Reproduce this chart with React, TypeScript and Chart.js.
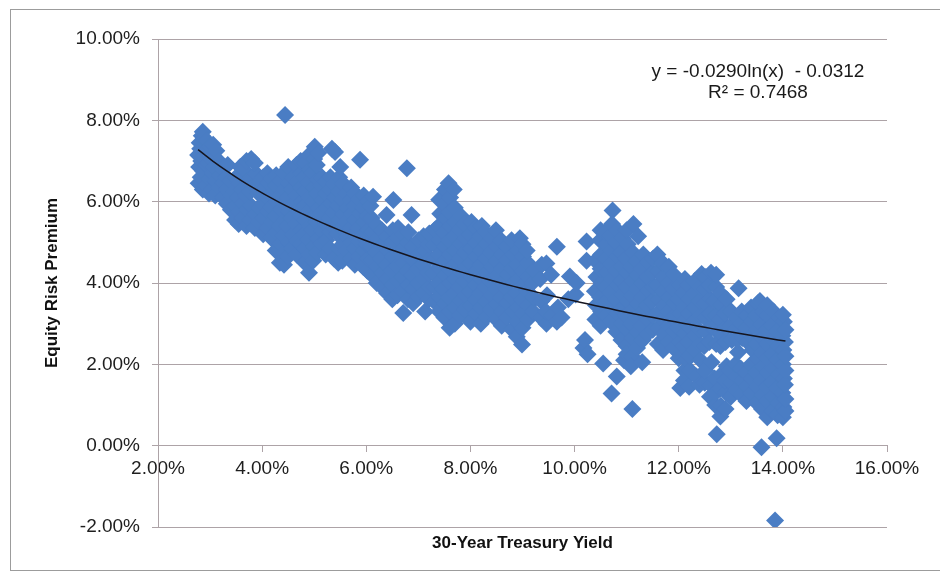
import React, { useEffect, useRef } from "react";
import { Chart, registerables } from "chart.js";

Chart.register(...registerables);

// Monthly observations: [30-year Treasury yield %, equity risk premium %]
const lowYieldObs: [number, number][] = [
  [2.78,6.45],[2.79,6.85],[2.77,7.15],[2.8,7.45],
  [2.82,6.6],[2.83,7.0],[2.81,7.3],[2.84,7.62],
  [2.86,6.3],[2.87,6.75],[2.85,7.1],[2.88,7.55],[2.86,7.72],
  [2.92,6.4],[2.93,6.9],[2.91,7.25],[2.94,7.5],
  [2.98,6.2],[2.99,6.55],[2.97,6.95],[3.0,7.35],
  [3.04,6.3],[3.05,6.7],[3.03,7.05],[3.06,7.4],
  [3.1,6.15],[3.11,6.5],[3.09,6.85],[3.12,7.25],
  [3.18,6.35],[3.19,6.65],[3.17,7.0],
  [3.25,6.1],[3.26,6.45],[3.24,6.8],
  [3.32,5.95],[3.33,6.3],[3.31,6.6],[3.34,6.9],
  [3.4,5.8],[3.41,6.15],[3.39,6.5],
  [3.48,5.55],[3.49,5.9],[3.47,6.25],[3.5,6.6],
  [3.55,5.45],[3.56,5.75],[3.54,6.1],[3.57,6.45],[3.58,6.85],
  [3.62,5.6],[3.63,5.95],[3.61,6.3],[3.64,6.8],
  [3.7,5.4],[3.71,5.8],[3.69,6.15],[3.72,6.5],[3.7,7.0],
  [3.78,5.55],[3.79,5.9],[3.77,6.25],[3.8,6.55],[3.79,7.05],
  [3.86,5.35],[3.87,5.7],[3.85,6.4],[3.88,6.7],[3.86,6.95],
  [3.94,5.5],[3.95,5.85],[3.93,6.2],[3.96,6.5],
  [4.02,5.2],[4.03,5.6],[4.01,5.95],[4.04,6.3],[4.02,6.6],
  [4.1,5.35],[4.11,5.75],[4.09,6.1],[4.12,6.45],[4.1,6.7],
  [4.18,5.1],[4.19,5.5],[4.17,5.85],[4.2,6.2],[4.18,6.55],
  [4.26,4.8],[4.27,5.25],[4.25,5.65],[4.28,6.0],[4.26,6.4],[4.27,6.65],
  [4.34,4.5],[4.35,4.95],[4.33,5.4],[4.36,5.8],[4.34,6.15],[4.35,6.5],
  [4.42,4.45],[4.43,4.75],[4.41,5.15],[4.44,5.55],[4.42,5.95],[4.43,6.3],[4.41,6.7],[4.44,8.13],
  [4.5,4.65],[4.51,5.0],[4.49,5.4],[4.52,5.75],[4.5,6.1],[4.51,6.45],[4.5,6.85],
  [4.58,4.85],[4.59,5.2],[4.57,5.6],[4.6,5.95],[4.58,6.3],[4.59,6.6],
  [4.66,4.7],[4.67,5.05],[4.65,5.45],[4.68,5.8],[4.66,6.15],[4.67,6.5],[4.66,6.9],
  [4.74,4.95],[4.75,5.3],[4.73,5.65],[4.76,6.0],[4.74,6.35],[4.75,6.7],[4.74,7.0],
  [4.82,4.5],[4.83,4.85],[4.81,5.2],[4.84,5.55],[4.82,5.9],[4.83,6.25],[4.81,6.6],[4.84,6.95],
  [4.9,4.25],[4.91,4.7],[4.89,5.05],[4.92,5.4],[4.9,5.75],[4.91,6.1],[4.89,6.45],[4.92,6.8],[4.9,7.15],
  [4.98,4.55],[4.99,4.9],[4.97,5.3],[5.0,5.65],[4.98,6.0],[4.99,6.35],[4.97,6.7],[5.0,7.05],[5.01,7.35],
  [5.06,4.75],[5.07,5.1],[5.05,5.5],[5.08,5.85],[5.06,6.2],[5.07,6.55],[5.05,6.9],[5.08,7.2],
  [5.14,4.95],[5.15,5.3],[5.13,5.7],[5.16,6.05],[5.14,6.4],[5.15,6.6],
  [5.22,4.7],[5.23,5.05],[5.21,5.45],[5.24,5.85],[5.22,6.2],[5.23,6.5],
  [5.3,4.85],[5.31,5.25],[5.29,5.6],[5.32,5.95],[5.3,6.3],[5.31,6.6],[5.34,7.3],
  [5.38,4.6],[5.39,5.35],[5.37,5.75],[5.4,6.1],[5.38,6.45],[5.4,7.22],
  [5.46,4.5],[5.47,4.85],[5.45,5.2],[5.48,5.55],[5.46,5.9],[5.47,6.25],[5.48,6.6],[5.5,6.85],
  [5.54,4.55],[5.55,4.95],[5.53,5.35],[5.56,5.7],[5.54,6.05],[5.55,6.45],
  [5.62,4.8],[5.63,5.15],[5.61,5.5],[5.64,5.85],[5.62,6.2],
  [5.7,4.6],[5.71,5.0],[5.69,5.35],[5.72,5.7],[5.7,6.05],[5.71,6.35],
  [5.78,4.45],[5.79,4.85],[5.77,5.2],[5.8,5.55],[5.78,5.9],[5.79,6.2],
  [5.86,4.65],[5.87,5.0],[5.85,5.35],[5.88,5.7],[5.86,6.05],[5.88,7.03],
  [5.94,4.4],[5.95,4.8],[5.93,5.15],[5.96,5.5],[5.94,5.85],[5.95,6.15],
  [6.02,4.3],[6.03,4.6],[6.01,4.95],[6.04,5.3],[6.02,5.65],[6.03,6.0],
];

const midYieldObs: [number, number][] = [
  [6.1,4.2],[6.11,4.55],[6.09,4.9],[6.12,5.25],[6.1,5.6],[6.08,5.9],[6.13,6.12],
  [6.2,4.0],[6.21,4.4],[6.19,4.75],[6.22,5.1],[6.2,5.42],
  [6.3,3.9],[6.31,4.25],[6.29,4.6],[6.32,4.95],[6.3,5.3],
  [6.4,3.75],[6.41,4.1],[6.39,4.45],[6.42,4.8],[6.4,5.15],[6.39,5.67],
  [6.5,3.6],[6.51,3.95],[6.49,4.3],[6.52,4.65],[6.5,5.0],[6.51,5.3],[6.52,6.04],
  [6.6,3.7],[6.61,4.05],[6.59,4.4],[6.62,4.75],[6.6,5.1],[6.61,5.35],
  [6.71,3.26],[6.7,3.8],[6.69,4.15],[6.72,4.5],[6.7,4.85],[6.71,5.2],[6.78,6.82],
  [6.8,3.6],[6.81,3.95],[6.79,4.3],[6.82,4.65],[6.8,5.0],[6.81,5.25],
  [6.9,3.5],[6.91,3.85],[6.89,4.2],[6.92,4.55],[6.9,4.9],[6.87,5.67],
  [7.0,3.65],[7.01,4.0],[6.99,4.35],[7.02,4.7],[7.0,5.05],
  [7.13,3.3],[7.1,3.75],[7.11,4.1],[7.09,4.45],[7.12,4.8],[7.1,5.15],
  [7.2,3.6],[7.21,3.9],[7.19,4.25],[7.22,4.6],[7.2,4.95],[7.21,5.22],
  [7.3,3.55],[7.31,3.9],[7.29,4.25],[7.32,4.6],[7.3,4.95],[7.31,5.3],
  [7.4,3.3],[7.41,3.65],[7.39,4.0],[7.42,4.35],[7.4,4.7],[7.41,5.05],[7.39,5.4],[7.42,5.7],[7.4,6.05],
  [7.5,3.15],[7.51,3.5],[7.49,3.85],[7.52,4.2],[7.5,4.55],[7.51,4.9],[7.49,5.25],[7.52,5.6],[7.5,5.95],[7.51,6.3],
  [7.6,2.9],[7.61,3.3],[7.59,3.65],[7.62,4.0],[7.6,4.35],[7.61,4.7],[7.59,5.05],[7.62,5.4],[7.6,5.75],[7.61,6.1],[7.58,6.45],
  [7.7,3.0],[7.71,3.4],[7.69,3.75],[7.72,4.1],[7.7,4.45],[7.71,4.8],[7.69,5.15],[7.72,5.5],[7.7,5.85],[7.68,6.3],
  [7.8,3.2],[7.81,3.55],[7.79,3.9],[7.82,4.25],[7.8,4.6],[7.81,4.95],[7.79,5.3],[7.82,5.65],
  [7.9,3.35],[7.91,3.7],[7.89,4.05],[7.92,4.4],[7.9,4.75],[7.91,5.1],[7.89,5.45],
  [8.0,3.05],[8.01,3.45],[7.99,3.8],[8.02,4.15],[8.0,4.5],[8.01,4.85],[7.99,5.2],[8.02,5.5],
  [8.1,3.25],[8.11,3.6],[8.09,3.95],[8.12,4.3],[8.1,4.65],[8.11,5.0],[8.09,5.35],
  [8.2,3.0],[8.21,3.4],[8.19,3.75],[8.22,4.1],[8.2,4.45],[8.21,4.8],[8.19,5.15],[8.22,5.4],
  [8.31,3.17],[8.3,3.55],[8.29,3.9],[8.32,4.25],[8.3,4.6],[8.31,4.95],[8.29,5.25],
  [8.4,3.35],[8.41,3.7],[8.39,4.05],[8.42,4.4],[8.4,4.75],[8.41,5.1],
  [8.5,3.1],[8.51,3.5],[8.49,3.85],[8.52,4.2],[8.5,4.55],[8.51,4.9],[8.49,5.3],
  [8.6,2.95],[8.61,3.3],[8.59,3.65],[8.62,4.0],[8.6,4.35],[8.61,4.7],[8.59,5.05],
  [8.7,3.15],[8.71,3.5],[8.69,3.85],[8.72,4.2],[8.7,4.55],[8.71,4.9],
  [8.8,2.85],[8.81,3.3],[8.79,3.65],[8.82,4.0],[8.8,4.35],[8.81,4.7],[8.79,5.05],
  [8.89,2.68],[8.9,3.05],[8.91,3.4],[8.89,3.75],[8.92,4.1],[8.9,4.45],[8.91,4.8],[8.95,5.1],
  [8.99,2.49],[9.0,2.9],[9.01,3.25],[8.99,3.6],[9.02,3.95],[9.0,4.3],[9.01,4.65],[9.0,4.95],
  [9.1,3.1],[9.11,3.45],[9.09,3.8],[9.12,4.15],[9.1,4.5],[9.08,4.8],
  [9.2,3.3],[9.21,3.65],[9.19,4.0],[9.22,4.3],
  [9.35,3.15],[9.36,3.55],[9.34,4.1],[9.37,4.45],
  [9.46,3.0],[9.45,3.3],[9.47,3.7],[9.46,4.48],
  [9.56,3.2],[9.55,4.2],
  [9.66,3.05],[9.68,3.4],[9.66,4.89],
  [9.75,3.15],
  [9.88,3.6],[9.91,4.16],
  [10.02,3.72],[10.04,4.0],
  [10.17,2.4],[10.2,2.6],[10.23,4.55],[10.23,5.02],
  [10.25,2.25],
];

const highYieldObs: [number, number][] = [
  [10.4,3.1],[10.41,3.45],[10.39,3.8],[10.42,4.15],[10.4,4.55],
  [10.5,2.95],[10.51,3.3],[10.49,3.65],[10.52,4.0],[10.5,4.35],[10.51,4.7],[10.49,5.05],[10.5,5.3],[10.55,2.02],
  [10.6,3.2],[10.61,3.55],[10.59,3.9],[10.62,4.25],[10.6,4.6],[10.61,4.95],[10.59,5.25],
  [10.7,3.05],[10.71,3.4],[10.69,3.75],[10.72,4.1],[10.7,4.45],[10.71,4.8],[10.69,5.15],[10.72,5.45],[10.73,5.78],[10.71,1.28],
  [10.8,2.8],[10.81,3.25],[10.79,3.6],[10.82,3.95],[10.8,4.3],[10.81,4.65],[10.79,5.0],[10.82,5.3],[10.81,1.7],
  [10.9,2.6],[10.91,3.0],[10.89,3.35],[10.92,3.7],[10.9,4.05],[10.91,4.4],[10.89,4.75],[10.92,5.1],[10.95,2.1],
  [11.0,2.45],[11.01,2.85],[10.99,3.2],[11.02,3.55],[11.0,3.9],[11.01,4.25],[10.99,4.6],[11.02,4.95],[11.0,5.3],[11.0,2.25],
  [11.1,2.2],[11.11,2.65],[11.09,3.0],[11.12,3.35],[11.1,3.7],[11.11,4.05],[11.09,4.4],[11.12,4.75],[11.13,5.45],[11.11,0.9],[11.08,1.95],
  [11.2,2.4],[11.21,2.8],[11.19,3.15],[11.22,3.5],[11.2,3.85],[11.21,4.2],[11.19,4.55],[11.22,5.15],
  [11.3,2.05],[11.31,2.6],[11.29,2.95],[11.32,3.3],[11.3,3.65],[11.31,4.0],[11.29,4.35],[11.32,4.7],
  [11.4,2.75],[11.41,3.1],[11.39,3.45],[11.42,3.8],[11.4,4.15],[11.41,4.5],
  [11.5,2.85],[11.51,3.2],[11.49,3.55],[11.52,3.9],[11.5,4.25],[11.51,4.6],
  [11.6,2.5],[11.61,2.9],[11.59,3.25],[11.62,3.6],[11.6,3.95],[11.61,4.3],[11.59,4.7],
  [11.7,2.35],[11.71,2.75],[11.69,3.1],[11.72,3.45],[11.7,3.8],[11.71,4.15],[11.69,4.5],
  [11.8,2.55],[11.81,2.95],[11.79,3.3],[11.82,3.65],[11.8,4.0],[11.81,4.4],
  [11.9,2.4],[11.91,2.8],[11.89,3.15],[11.92,3.5],[11.9,3.85],[11.91,4.2],
  [12.03,1.42],[12.0,2.15],[12.01,2.55],[11.99,2.9],[12.02,3.25],[12.0,3.6],[12.01,3.95],
  [12.1,1.6],[12.11,1.85],[12.15,2.1],[12.09,2.45],[12.12,2.75],[12.1,3.05],[12.11,3.4],[12.09,3.75],[12.12,4.1],
  [12.2,1.45],[12.22,1.85],[12.21,2.2],[12.19,2.55],[12.22,2.9],[12.2,3.25],[12.21,3.6],[12.19,3.95],
  [12.34,1.7],[12.3,2.35],[12.31,2.7],[12.29,3.05],[12.32,3.4],[12.3,3.75],[12.31,4.05],
  [12.4,1.5],[12.42,2.1],[12.41,2.5],[12.39,2.85],[12.42,3.2],[12.4,3.55],[12.41,3.9],[12.44,4.22],
  [12.5,1.55],[12.51,1.85],[12.49,2.45],[12.52,2.8],[12.5,3.15],[12.51,3.5],[12.49,3.85],[12.52,4.15],
  [12.6,1.2],[12.61,1.5],[12.63,2.05],[12.59,2.55],[12.62,2.9],[12.6,3.25],[12.61,3.6],[12.59,3.95],[12.62,4.25],
  [12.73,0.28],[12.7,1.0],[12.71,1.3],[12.69,1.65],[12.72,2.5],[12.7,2.85],[12.71,3.2],[12.69,3.55],[12.72,3.9],[12.72,4.2],
  [12.8,0.72],[12.81,0.98],[12.79,1.4],[12.82,1.75],[12.8,2.45],[12.81,2.75],[12.79,3.1],[12.82,3.45],[12.8,3.75],
  [12.9,0.9],[12.91,1.3],[12.89,1.6],[12.92,1.95],[12.9,2.55],[12.91,2.9],[12.89,3.25],[12.92,3.6],
  [13.0,1.2],[13.01,1.55],[12.99,1.85],[13.02,2.6],[13.0,2.95],[13.01,3.3],
  [13.1,1.35],[13.11,1.7],[13.09,2.0],[13.14,2.3],[13.12,2.6],[13.1,2.85],[13.11,3.15],[13.15,3.87],
  [13.2,1.25],[13.21,1.6],[13.19,1.9],[13.22,2.65],[13.2,3.0],[13.21,3.3],
  [13.3,1.1],[13.31,1.45],[13.29,1.8],[13.32,2.55],[13.3,2.9],[13.31,3.2],
  [13.4,1.3],[13.41,1.65],[13.39,2.0],[13.42,2.35],[13.4,2.7],[13.41,3.05],[13.39,3.4],
  [13.5,1.05],[13.51,1.45],[13.49,1.8],[13.52,2.15],[13.5,2.5],[13.51,2.85],[13.49,3.2],[13.52,3.5],
  [13.59,-0.04],[13.6,0.9],[13.61,1.25],[13.59,1.6],[13.62,1.95],[13.6,2.3],[13.61,2.65],[13.59,3.0],[13.62,3.3],[13.56,3.56],
  [13.7,0.7],[13.71,1.1],[13.69,1.45],[13.72,1.8],[13.7,2.15],[13.71,2.5],[13.69,2.85],[13.72,3.2],[13.7,3.45],
  [13.88,0.18],[13.8,0.85],[13.81,1.2],[13.79,1.55],[13.82,1.9],[13.8,2.25],[13.81,2.6],[13.79,2.95],[13.82,3.3],[13.85,-1.84],
  [13.9,0.75],[13.91,1.05],[13.89,1.4],[13.92,1.75],[13.9,2.1],[13.91,2.45],[13.89,2.8],[13.95,3.15],
  [14.0,0.7],[14.01,0.95],[13.99,1.3],[14.02,1.65],[14.0,2.0],[14.01,2.35],[13.99,2.7],[14.02,3.05],[14.0,3.22],
  [14.05,0.85],[14.05,1.15],[14.04,1.5],[14.05,1.85],[14.05,2.2],[14.04,2.55],[14.05,2.85],
];

// Logarithmic trendline as reported on the chart (x and y as fractions)
const TREND_SLOPE = -0.029;
const TREND_INTERCEPT = -0.0312;
const equationText = "y = -0.0290ln(x)  - 0.0312";
const rSquaredText = "R\u00B2 = 0.7468";

const xAxisTitle = "30-Year Treasury Yield";
const yAxisTitle = "Equity Risk Premium";

const FONT = "'Liberation Sans', Arial, Helvetica, sans-serif";
const GRID = "#ada3a7";
const MARKER = "#4A7DC4";

const pctLabel = (v: number | string) => Number(v).toFixed(2) + "%";

export default function App() {
  const canvasRef = useRef<HTMLCanvasElement | null>(null);

  useEffect(() => {
    const canvas = canvasRef.current;
    if (!canvas) return;

    const observations = [...lowYieldObs, ...midYieldObs, ...highYieldObs].map(([x, y]) => ({ x, y }));
    const xs = observations.map((p) => p.x);
    const xMin = Math.min(...xs);
    const xMax = Math.max(...xs);
    const trend: { x: number; y: number }[] = [];
    const steps = 80;
    for (let i = 0; i <= steps; i++) {
      const x = xMin + ((xMax - xMin) * i) / steps;
      const y = (TREND_SLOPE * Math.log(x / 100) + TREND_INTERCEPT) * 100;
      trend.push({ x, y });
    }

    const textPlugin = {
      id: "chartText",
      afterDraw(chart: any) {
        const { ctx, chartArea } = chart;
        ctx.save();
        ctx.fillStyle = "#111";
        ctx.textAlign = "center";
        ctx.textBaseline = "middle";
        ctx.font = `bold 17px ${FONT}`;
        ctx.fillText(xAxisTitle, (chartArea.left + chartArea.right) / 2, 543);
        ctx.save();
        ctx.translate(52, (chartArea.top + chartArea.bottom) / 2);
        ctx.rotate(-Math.PI / 2);
        ctx.fillText(yAxisTitle, 0, 0);
        ctx.restore();
        ctx.font = `19px ${FONT}`;
        ctx.fillStyle = "#1a1a1a";
        ctx.fillText(equationText, 758, 72);
        ctx.fillText(rSquaredText, 758, 93);
        ctx.restore();
      },
    };

    const chart = new Chart(canvas, {
      type: "scatter",
      data: {
        datasets: [
          {
            label: "Log trend",
            data: trend,
            showLine: true,
            borderColor: "#15151f",
            borderWidth: 1.5,
            pointRadius: 0,
            fill: false,
            order: 0,
          },
          {
            label: "ERP vs yield",
            data: observations,
            pointStyle: "rectRot",
            pointRadius: 9,
            pointHoverRadius: 9,
            backgroundColor: MARKER,
            borderColor: MARKER,
            borderWidth: 0,
            order: 1,
          },
        ],
      },
      options: {
        responsive: false,
        animation: false,
        events: [],
        layout: { padding: { left: 0, right: 53, top: 39, bottom: 53 } },
        plugins: { legend: { display: false }, tooltip: { enabled: false } },
        scales: {
          x: {
            type: "linear",
            min: 2,
            max: 16,
            position: { y: 0 } as any,
            afterFit: (s: any) => {
              s.height = 0;
            },
            grid: { drawOnChartArea: false, drawTicks: true, tickLength: 6, color: GRID },
            border: { display: true, color: GRID, width: 1 },
            ticks: {
              stepSize: 2,
              padding: 6,
              color: "#1e1e1e",
              maxRotation: 0,
              autoSkip: false,
              font: { family: FONT, size: 19 },
              callback: (v: any) => pctLabel(v),
            },
          },
          y: {
            type: "linear",
            min: -2,
            max: 10,
            afterFit: (s: any) => {
              s.width = 158;
            },
            grid: { color: GRID, drawTicks: true, tickLength: 6 },
            border: { display: true, color: GRID, width: 1 },
            ticks: {
              stepSize: 2,
              padding: 12,
              color: "#1e1e1e",
              font: { family: FONT, size: 19 },
              callback: (v: any) => pctLabel(v),
            },
          },
        },
      },
      plugins: [textPlugin],
    });

    return () => chart.destroy();
  }, []);

  return (
    <div style={{ position: "fixed", left: 0, top: 0, width: 940, height: 580, background: "#fff" }}>
      <div
        style={{
          position: "absolute",
          left: 10,
          top: 9,
          width: 940,
          height: 562,
          border: "1px solid #9c9c9c",
          boxSizing: "border-box",
        }}
      />
      <canvas ref={canvasRef} width={940} height={580} style={{ position: "absolute", left: 0, top: 0 }} />
    </div>
  );
}
